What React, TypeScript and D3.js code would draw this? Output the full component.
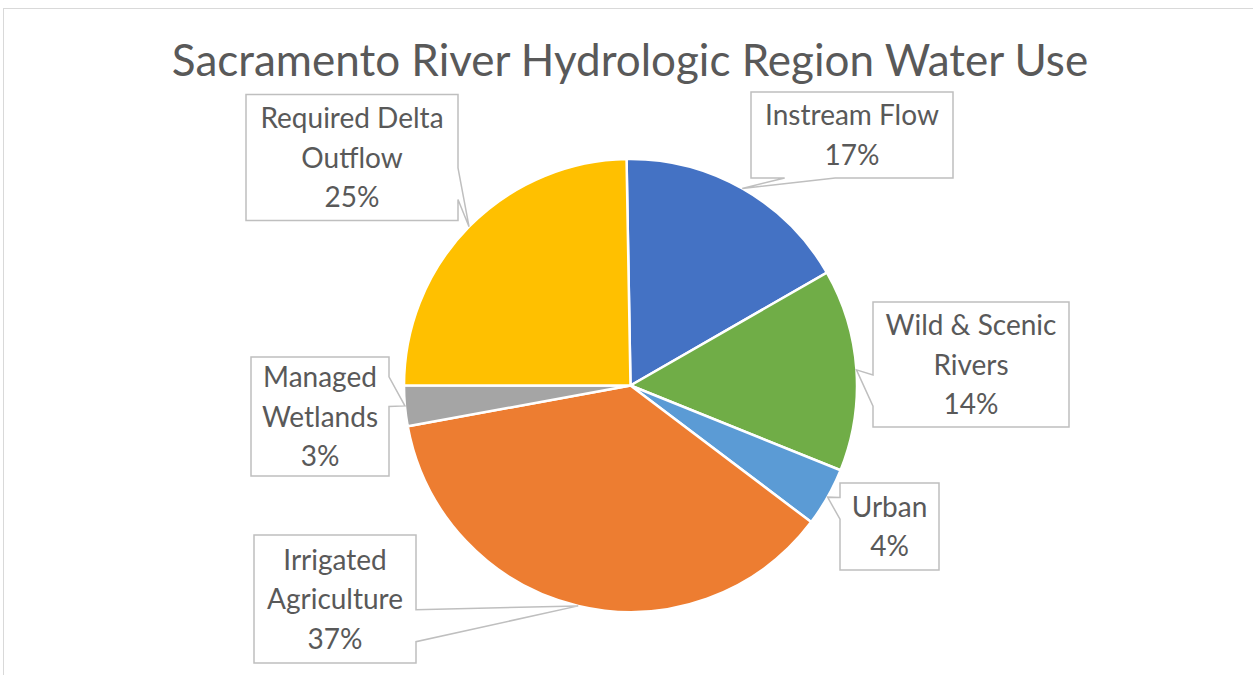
import React from 'react';
import * as d3 from 'd3';

// water use categories, clockwise from 12 o'clock
const categories = [
  'Instream Flow',
  'Wild & Scenic Rivers',
  'Urban',
  'Irrigated Agriculture',
  'Managed Wetlands',
  'Required Delta Outflow',
];
const values = [16.97, 14.4, 4.2, 36.8, 2.9, 24.7];
const labelLines = [
  ['Instream Flow'],
  ['Wild & Scenic', 'Rivers'],
  ['Urban'],
  ['Irrigated', 'Agriculture'],
  ['Managed', 'Wetlands'],
  ['Required Delta', 'Outflow'],
];
const colors = ['#4472C4', '#70AD47', '#5B9BD5', '#ED7D31', '#A5A5A5', '#FFC000'];

// callout boxes: [centre x, centre y, width, height]
const boxes = [
  [852, 135, 202, 86],
  [971, 364.5, 196, 125],
  [889.5, 526.5, 99, 87],
  [335, 599, 162, 128],
  [320, 416.5, 138, 119],
  [352, 157.5, 212, 126],
];

const width = 1253;
const height = 675;
const cx = 630.5;
const cy = 385.5;
const radius = 226.5;
const rotation = -Math.PI / 180;
const font = 'Lato, "Open Sans", sans-serif';
const textColor = '#595959';

// Office wedgeRectCallout outline
function calloutPath(bx: number, by: number, w: number, h: number, tx: number, ty: number) {
  const dx = tx - (bx + w / 2);
  const dy = ty - (by + h / 2);
  const dz = Math.abs(dy) - Math.abs((dx * h) / w);
  const x1 = bx + (w * (dx > 0 ? 7 : 2)) / 12;
  const x2 = bx + (w * (dx > 0 ? 10 : 5)) / 12;
  const y1 = by + (h * (dy > 0 ? 7 : 2)) / 12;
  const y2 = by + (h * (dy > 0 ? 10 : 5)) / 12;
  const r = bx + w;
  const b = by + h;
  if (dz > 0) {
    if (dy < 0) return `M${bx},${by}L${x1},${by}L${tx},${ty}L${x2},${by}L${r},${by}L${r},${b}L${bx},${b}Z`;
    return `M${bx},${by}L${r},${by}L${r},${b}L${x2},${b}L${tx},${ty}L${x1},${b}L${bx},${b}Z`;
  }
  if (dx < 0) return `M${bx},${by}L${r},${by}L${r},${b}L${bx},${b}L${bx},${y2}L${tx},${ty}L${bx},${y1}Z`;
  return `M${bx},${by}L${r},${by}L${r},${y1}L${tx},${ty}L${r},${y2}L${r},${b}L${bx},${b}Z`;
}

export default function App() {
  const total = d3.sum(values);
  const pie = d3
    .pie<number>()
    .sort(null)
    .value((d) => d)
    .startAngle(rotation)
    .endAngle(rotation + 2 * Math.PI);
  const arcs = pie(values);
  const arcGen = d3.arc<d3.PieArcDatum<number>>().innerRadius(0).outerRadius(radius);

  return (
    <svg
      width={width}
      height={height}
      style={{ position: 'absolute', left: 0, top: 0, background: '#fff' }}
    >
      <rect x={3.5} y={8.5} width={width} height={height} fill="#fff" stroke="#D9D9D9" strokeWidth={1} />
      <text
        x={630}
        y={76}
        textAnchor="middle"
        fontFamily={font}
        fontSize={44}
        fill={textColor}
      >
        Sacramento River Hydrologic Region Water Use
      </text>
      <g transform={`translate(${cx},${cy})`}>
        {arcs.map((a, i) => (
          <path key={categories[i]} d={arcGen(a) || ''} fill={colors[i]} stroke="#fff" strokeWidth={2.5} />
        ))}
      </g>
      {arcs.map((a, i) => {
        const mid = (a.startAngle + a.endAngle) / 2;
        const tx = cx + radius * Math.sin(mid);
        const ty = cy - radius * Math.cos(mid);
        const [bcx, bcy, bw, bh] = boxes[i];
        const lines = [...labelLines[i], Math.round((values[i] / total) * 100) + '%'];
        const lh = 39.5;
        return (
          <g key={'c' + i}>
            <path
              d={calloutPath(bcx - bw / 2, bcy - bh / 2, bw, bh, tx, ty)}
              fill="#fff"
              stroke="#BFBFBF"
              strokeWidth={1.5}
            />
            {lines.map((t, j) => (
              <text
                key={j}
                x={bcx}
                y={bcy + (j - (lines.length - 1) / 2) * lh}
                dy="0.36em"
                textAnchor="middle"
                fontFamily={font}
                fontSize={28}
                fill={textColor}
              >
                {t}
              </text>
            ))}
          </g>
        );
      })}
    </svg>
  );
}
